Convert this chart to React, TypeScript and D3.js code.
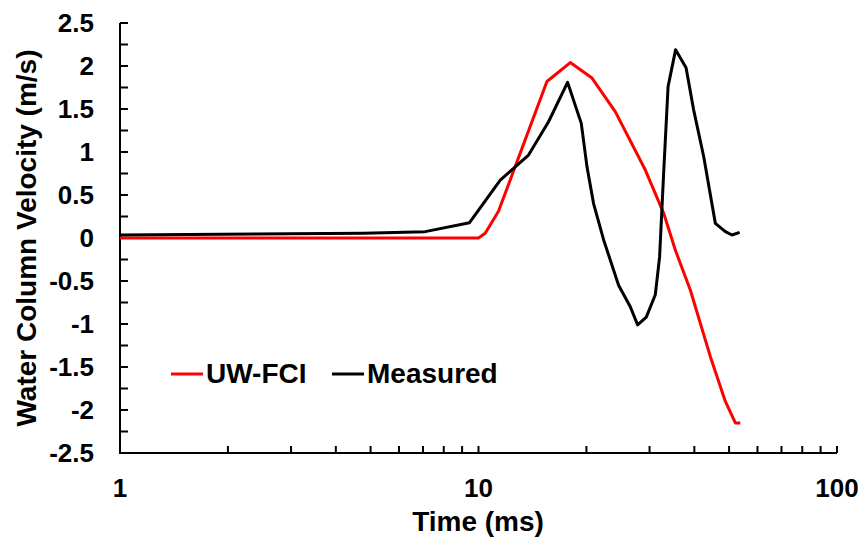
import React from "react";
import * as d3 from "d3";

const measuredTime = [1, 4.77, 7.1, 9.44, 11.5, 13.79, 15.68, 17.72, 19.35, 20.07, 20.94, 22.33, 24.59, 26.51, 27.79, 29.38, 31.13, 32.0, 32.84, 33.79, 35.47, 37.93, 39.82, 42.46, 45.78, 48.82, 50.96, 53.51];
const measuredVel = [0.035, 0.055, 0.074, 0.178, 0.674, 0.965, 1.352, 1.81, 1.333, 0.83, 0.4, -0.02, -0.55, -0.8, -1.01, -0.92, -0.66, -0.22, 0.75, 1.76, 2.19, 1.98, 1.49, 0.95, 0.17, 0.074, 0.035, 0.066];

const modelTime = [1, 10, 10.44, 11.37, 15.52, 18.03, 20.73, 24.07, 29.2, 32.84, 35.4, 38.98, 44.34, 48.82, 52.05, 53.75];
const modelVel = [0, 0, 0.055, 0.31, 1.82, 2.04, 1.86, 1.47, 0.79, 0.29, -0.14, -0.605, -1.38, -1.9, -2.15, -2.15];

const yTicks = [2.5, 2, 1.5, 1, 0.5, 0, -0.5, -1, -1.5, -2, -2.5];
const xTickLabels = [1, 10, 100];
const seriesNames = ["UW-FCI", "Measured"];
const seriesColors = ["#ff0000", "#000000"];

const W = 861, H = 537;
const left = 120, right = 837, top = 23, bottom = 453;
const font = "'Liberation Sans', Arial, sans-serif";

export default function App() {
  const x = d3.scaleLog().domain([1, 100]).range([left, right]);
  const y = d3.scaleLinear().domain([-2.5, 2.5]).range([bottom, top]);
  const line = d3.line<[number, number]>().x(d => x(d[0])).y(d => y(d[1]));
  const measured = measuredTime.map((t, i) => [t, measuredVel[i]] as [number, number]);
  const model = modelTime.map((t, i) => [t, modelVel[i]] as [number, number]);

  const minorY = d3.range(-2.5, 2.5001, 0.25);
  const minorX: number[] = [];
  for (const dec of [1, 10]) for (let k = 1; k <= 10; k++) minorX.push(dec * k);

  return (
    <svg width={W} height={H} style={{ position: "absolute", left: 0, top: 0, background: "#fff" }} fontFamily={font} fontWeight="bold">
      <rect x={0} y={0} width={W} height={H} fill="#fff" />
      {/* axes */}
      <path d={`M${left},${top}V${bottom}H${right}`} fill="none" stroke="#000" strokeWidth={2} />
      {minorY.map((v, i) => (
        <line key={"yt" + i} x1={left} x2={left + 8} y1={y(v)} y2={y(v)} stroke="#000" strokeWidth={2} />
      ))}
      {Array.from(new Set(minorX)).map((v, i) => (
        <line key={"xt" + i} x1={x(v)} x2={x(v)} y1={bottom} y2={bottom - 7} stroke="#000" strokeWidth={2} />
      ))}
      {yTicks.map((v, i) => (
        <text key={"yl" + i} x={94} y={y(v)} dy="0.36em" textAnchor="end" fontSize={26}>{v}</text>
      ))}
      {xTickLabels.map((v, i) => (
        <text key={"xl" + i} x={x(v)} y={497} textAnchor="middle" fontSize={26}>{v}</text>
      ))}
      <text x={478} y={531} textAnchor="middle" fontSize={28}>Time (ms)</text>
      <text transform={`translate(36,238) rotate(-90)`} textAnchor="middle" fontSize={28}>Water Column Velocity (m/s)</text>
      {/* data */}
      <path d={line(model) || ""} fill="none" stroke={seriesColors[0]} strokeWidth={3} strokeLinejoin="round" />
      <path d={line(measured) || ""} fill="none" stroke={seriesColors[1]} strokeWidth={3} strokeLinejoin="round" />
      {/* legend */}
      {seriesNames.map((n, i) => {
        const lx = i === 0 ? 171 : 332;
        return (
          <g key={n}>
            <line x1={lx} x2={lx + 32} y1={374} y2={374} stroke={seriesColors[i]} strokeWidth={3} />
            <text x={lx + 35} y={383} fontSize={28}>{n}</text>
          </g>
        );
      })}
    </svg>
  );
}
